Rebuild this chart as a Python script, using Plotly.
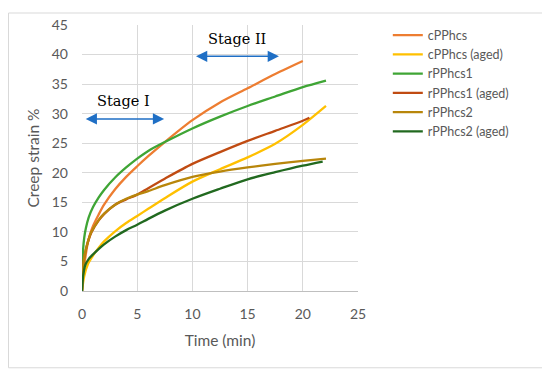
import plotly.graph_objects as go

names = ["cPPhcs", "cPPhcs (aged)", "rPPhcs1", "rPPhcs1 (aged)", "rPPhcs2", "rPPhcs2 (aged)"]
colors = ["#ED7D31", "#FFC000", "#3FA535", "#C04B12", "#B8860B", "#21691F"]

t_cpp = [0, 0.1, 0.25, 0.5, 0.75, 1, 1.5, 2, 3, 4, 5, 6, 7.5, 10, 12.5, 15, 17.5, 20]
y_cpp = [0, 3.0, 5.0, 7.9, 9.7, 11.0, 12.9, 14.6, 17.2, 19.3, 21.1, 22.8, 25.2, 28.9, 31.9, 34.3, 36.7, 38.9]

t_cpp_aged = [0, 0.2, 0.55, 1, 1.5, 2, 3, 4, 5, 6, 7.5, 10, 12.5, 15, 17.5, 20, 22.1]
y_cpp_aged = [0, 2.5, 4.6, 6.0, 7.3, 8.4, 10.1, 11.5, 12.7, 13.9, 15.7, 18.5, 20.6, 22.6, 24.9, 28.1, 31.3]

t_r1 = [0, 0.05, 0.1, 0.2, 0.35, 0.6, 1, 1.5, 2, 3, 4, 5, 6, 7.5, 10, 12.5, 15, 17.5, 20, 22.1]
y_r1 = [0, 5.0, 7.0, 9.0, 10.6, 12.4, 14.2, 15.8, 17.1, 19.2, 20.9, 22.4, 23.7, 25.2, 27.5, 29.5, 31.3, 32.9, 34.5, 35.6]

t_r1_aged = [0, 0.15, 0.3, 0.5, 0.85, 1.5, 2, 3, 4, 5, 6, 7.5, 10, 12.5, 15, 17.5, 20, 20.6]
y_r1_aged = [0, 5.0, 6.6, 8.1, 9.9, 11.9, 13.0, 14.6, 15.5, 16.3, 17.4, 19.0, 21.5, 23.5, 25.4, 27.1, 28.8, 29.3]

t_r2 = [0, 0.15, 0.3, 0.5, 0.8, 1.5, 2, 3, 4, 5, 6, 7.5, 10, 12.5, 15, 17.5, 20, 22.1]
y_r2 = [0, 5.0, 6.6, 8.1, 9.8, 12.0, 13.1, 14.6, 15.6, 16.3, 16.9, 17.9, 19.3, 20.2, 20.9, 21.5, 22.0, 22.4]

t_r2_aged = [0, 0.1, 0.3, 0.6, 1, 1.5, 2, 3, 4, 5, 6, 7.5, 10, 12.5, 15, 17.5, 20, 21.8]
y_r2_aged = [0, 2.5, 4.4, 5.4, 6.2, 7.1, 7.9, 9.2, 10.3, 11.2, 12.2, 13.6, 15.6, 17.3, 18.9, 20.1, 21.2, 21.9]

series_t = [t_cpp, t_cpp_aged, t_r1, t_r1_aged, t_r2, t_r2_aged]
series_y = [y_cpp, y_cpp_aged, y_r1, y_r1_aged, y_r2, y_r2_aged]

x_ticks = [0, 5, 10, 15, 20, 25]
y_ticks = [0, 5, 10, 15, 20, 25, 30, 35, 40, 45]

stage_labels = ["Stage I", "Stage II"]
stage_label_x = [3.75, 14.0]
stage_label_y = [32.2, 42.6]
stage_arrow_x0 = [0.2, 10.19]
stage_arrow_x1 = [7.44, 17.84]
stage_arrow_y = [29.1, 39.7]

fig = go.Figure()
for n, c, tx, ty in zip(names, colors, series_t, series_y):
    fig.add_trace(go.Scatter(x=tx, y=ty, mode="lines", name=n,
                             line=dict(color=c, width=2.3, shape="spline", smoothing=0.8)))

tickfont = dict(family="Lato", size=14, color="#595959")
titlefont = dict(family="Lato", size=15.5, color="#595959")

# page body has an 8px margin, so the figure is sized/offset to compensate
fig.update_layout(
    width=542, height=364,
    margin=dict(l=74, r=192, t=13, b=81),
    paper_bgcolor="white", plot_bgcolor="white",
    showlegend=True,
    legend=dict(x=1.108, y=1.017, xanchor="left", yanchor="top",
                font=dict(family="Lato", size=12.5, color="#595959"),
                bgcolor="rgba(0,0,0,0)", itemwidth=30),
    xaxis=dict(range=[0, 25], tickvals=x_ticks, showgrid=True, gridcolor="#D9D9D9", gridwidth=1,
               showline=True, linecolor="#BFBFBF", linewidth=1, zeroline=False,
               tickfont=tickfont, ticklabelstandoff=10, automargin=False,
               title=dict(text="Time (min)", font=titlefont, standoff=14), fixedrange=True),
    yaxis=dict(range=[0, 45], tickvals=y_ticks, showgrid=True, gridcolor="#D9D9D9", gridwidth=1,
               showline=False, zeroline=False, automargin=False,
               tickfont=tickfont, ticklabelstandoff=13,
               title=dict(text="Creep strain %", font=titlefont, standoff=8), fixedrange=True),
)

fig.add_shape(type="rect", xref="paper", yref="paper",
              x0=-0.2663, x1=1.6739, y0=-0.2886, y1=1.0451,
              line=dict(color="#D9D9D9", width=1), layer="below")

for lab, lx, ly, x0, x1, ay in zip(stage_labels, stage_label_x, stage_label_y,
                                   stage_arrow_x0, stage_arrow_x1, stage_arrow_y):
    fig.add_annotation(x=lx, y=ly, xref="x", yref="y", text=lab, showarrow=False,
                       font=dict(family="DejaVu Serif", size=14.5, color="black"))
    fig.add_annotation(x=x1, y=ay, ax=x0, ay=ay, xref="x", yref="y", axref="x", ayref="y",
                       text="", showarrow=True, arrowhead=2, startarrowhead=2,
                       arrowside="end+start", arrowsize=1.5, startarrowsize=1.5,
                       arrowwidth=1.5, arrowcolor="#1F6FC5", standoff=0, startstandoff=0)

fig.write_html("out.html")
